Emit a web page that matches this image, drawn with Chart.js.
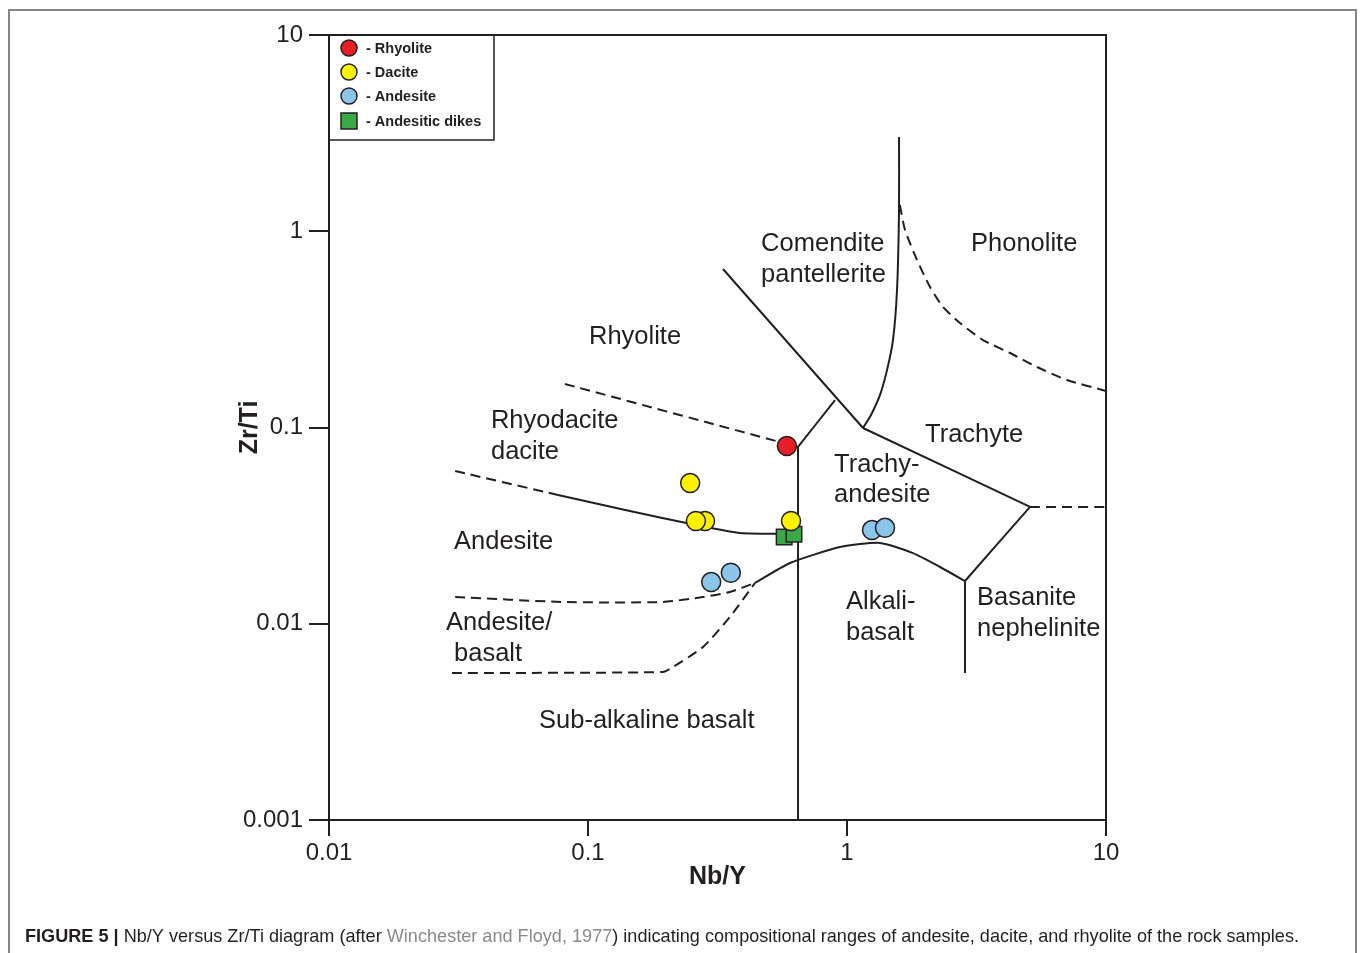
<!DOCTYPE html>
<html>
<head>
<meta charset="utf-8">
<script src="https://cdn.jsdelivr.net/npm/chart.js@4.4.1/dist/chart.umd.min.js"></script>
<style>
  html, body { margin: 0; padding: 0; background: #fff; }
  #wrap { position: relative; width: 1360px; height: 953px; overflow: hidden; }
  #frame { position: absolute; left: 8px; top: 9px; width: 1349px; height: 980px; border: 2px solid #858585; border-bottom: none; box-sizing: border-box; }
  canvas { position: absolute; left: 0; top: 0; }
</style>
</head>
<body>
<div id="wrap">
  <div id="frame"></div>
  <canvas id="chart" width="1360" height="953"></canvas>
</div>
<script>
const ink = '#231f20';
const family = '"Liberation Sans", Arial, Helvetica, sans-serif';
const captionFamily = '"Liberation Sans Narrow", "Liberation Sans", Arial, sans-serif';

// axis ticks
const xTicks = [0.01, 0.1, 1, 10];
const yTicks = [0.001, 0.01, 0.1, 1, 10];

// samples, Nb/Y vs Zr/Ti
const rhyolite = [{ x: 0.586, y: 0.0805 }];
const dacite = [
    { x: 0.248, y: 0.0521 },
    { x: 0.283, y: 0.0334 },
    { x: 0.261, y: 0.0334 },
    { x: 0.608, y: 0.0334 }
];
const andesite = [
    { x: 0.299, y: 0.0163 },
    { x: 0.356, y: 0.0182 },
    { x: 1.249, y: 0.0300 },
    { x: 1.402, y: 0.0308 }
];
const andesiticDikes = [
    { x: 0.572, y: 0.0277 },
    { x: 0.624, y: 0.0286 }
];

// field boundaries (Winchester & Floyd 1977)
const rhyoliteRhyodacite = [{ x: 0.0815, y: 0.1666 }, { x: 0.647, y: 0.0796 }];
const rhyodaciteAndesiteDash = [{ x: 0.0307, y: 0.0600 }, { x: 0.0766, y: 0.0453 }];
const rhyodaciteAndesite = [
    { x: 0.0766, y: 0.0453 }, { x: 0.145, y: 0.0375 }, { x: 0.264, y: 0.0318 },
    { x: 0.386, y: 0.0290 }, { x: 0.647, y: 0.0287 }
];
const subalkalineAlkaline = [{ x: 0.647, y: 0.0796 }, { x: 0.647, y: 0.001 }];
const rhyoliteTrachyandesite = [{ x: 0.647, y: 0.0796 }, { x: 0.899, y: 0.138 }];
const rhyoliteComendite = [{ x: 0.332, y: 0.642 }, { x: 1.153, y: 0.0994 }];
const comenditePhonolite = [
    { x: 1.588, y: 3.02 }, { x: 1.588, y: 1.28 }, { x: 1.56, y: 0.502 }, { x: 1.505, y: 0.279 },
    { x: 1.427, y: 0.196 }, { x: 1.341, y: 0.1465 }, { x: 1.238, y: 0.1158 }, { x: 1.153, y: 0.0994 }
];
const trachyteTrachyandesite = [{ x: 1.153, y: 0.0994 }, { x: 5.09, y: 0.0394 }];
const trachyandesiteBasanite = [{ x: 5.09, y: 0.0394 }, { x: 2.855, y: 0.01651 }];
const alkaliBasanite = [{ x: 2.855, y: 0.01651 }, { x: 2.855, y: 0.00561 }];
const andesiteAlkali = [
    { x: 0.4414, y: 0.01614 }, { x: 0.6026, y: 0.0204 }, { x: 0.940, y: 0.0246 }, { x: 1.341, y: 0.0258 },
    { x: 1.798, y: 0.0229 }, { x: 2.286, y: 0.01946 }, { x: 2.855, y: 0.01651 }
];
const phonoliteDash = [
    { x: 1.60, y: 1.36 }, { x: 1.675, y: 1.015 }, { x: 1.863, y: 0.714 }, { x: 2.092, y: 0.520 },
    { x: 2.348, y: 0.411 }, { x: 2.731, y: 0.3407 }, { x: 3.35, y: 0.279 }, { x: 4.26, y: 0.2397 },
    { x: 5.415, y: 0.2034 }, { x: 7.07, y: 0.1746 }, { x: 10, y: 0.1535 }
];
const trachytePhonoliteDash = [{ x: 5.09, y: 0.0394 }, { x: 10, y: 0.0394 }];
const andesiteBasaltDash = [
    { x: 0.0307, y: 0.01369 }, { x: 0.0801, y: 0.01291 }, { x: 0.1949, y: 0.01291 },
    { x: 0.278, y: 0.01369 }, { x: 0.353, y: 0.01452 }, { x: 0.4414, y: 0.01614 }
];
const basaltSubalkalineDash = [
    { x: 0.02985, y: 0.00561 }, { x: 0.1949, y: 0.00568 }, { x: 0.2128, y: 0.00602 },
    { x: 0.278, y: 0.00761 }, { x: 0.353, y: 0.01083 }, { x: 0.4414, y: 0.01614 }
];

const solidLines = [rhyodaciteAndesite, subalkalineAlkaline, rhyoliteTrachyandesite, rhyoliteComendite,
    comenditePhonolite, trachyteTrachyandesite, trachyandesiteBasanite, alkaliBasanite, andesiteAlkali];
const dashedLines = [rhyoliteRhyodacite, rhyodaciteAndesiteDash, phonoliteDash, trachytePhonoliteDash,
    andesiteBasaltDash, basaltSubalkalineDash];

// field names, anchored at left / middle of the text
const fieldLabels = [
    { text: 'Comendite', x: 0.466, y: 0.86 },
    { text: 'pantellerite', x: 0.466, y: 0.597 },
    { text: 'Phonolite', x: 3.012, y: 0.86 },
    { text: 'Rhyolite', x: 0.1009, y: 0.288 },
    { text: 'Rhyodacite', x: 0.0422, y: 0.1075 },
    { text: 'dacite', x: 0.0422, y: 0.0749 },
    { text: 'Trachyte', x: 2.001, y: 0.0915 },
    { text: 'Trachy-', x: 0.891, y: 0.0643 },
    { text: 'andesite', x: 0.891, y: 0.0452 },
    { text: 'Andesite', x: 0.0304, y: 0.0260 },
    { text: 'Andesite/', x: 0.0283, y: 0.01008 },
    { text: 'basalt', x: 0.0304, y: 0.00700 },
    { text: 'Alkali-', x: 0.991, y: 0.01290 },
    { text: 'basalt', x: 0.991, y: 0.00896 },
    { text: 'Basanite', x: 3.177, y: 0.01350 },
    { text: 'nephelinite', x: 3.177, y: 0.00938 },
    { text: 'Sub-alkaline basalt', x: 0.0647, y: 0.00319 }
];

const captionParts = [
    { text: 'FIGURE 5 | ', bold: true, color: ink },
    { text: 'Nb/Y versus Zr/Ti diagram (after ', color: ink },
    { text: 'Winchester and Floyd, 1977', color: '#8a8a8a' },
    { text: ') indicating compositional ranges of andesite, dacite, and rhyolite of the rock samples.', color: ink }
];

function sample(label, data, color, style, radius) {
    return {
        label: label, data: data, backgroundColor: color, borderColor: ink, borderWidth: 1.5,
        pointStyle: style, pointRadius: radius, showLine: false
    };
}

function boundary(data, dashed) {
    return {
        data: data, showLine: true, borderColor: ink, borderWidth: 2, pointRadius: 0,
        borderDash: dashed ? [10, 6] : [], tension: 0.2, fill: false
    };
}

const datasets = [
    sample('- Rhyolite', rhyolite, '#e41f26', 'circle', 9.5),
    sample('- Dacite', dacite, '#fff200', 'circle', 9.5),
    sample('- Andesite', andesite, '#8cc5ea', 'circle', 9.5),
    sample('- Andesitic dikes', andesiticDikes, '#3aa845', 'rect', 11),
    ...solidLines.map(l => boundary(l, false)),
    ...dashedLines.map(l => boundary(l, true))
];

const decorations = {
    id: 'decorations',
    afterDraw(chart) {
        const { ctx, chartArea: a, scales: { x, y } } = chart;
        ctx.save();

        // plot frame
        ctx.strokeStyle = ink;
        ctx.lineWidth = 2;
        ctx.strokeRect(a.left, a.top, a.right - a.left, a.bottom - a.top);

        // field names
        ctx.fillStyle = ink;
        ctx.font = '25.5px ' + family;
        ctx.textAlign = 'left';
        ctx.textBaseline = 'middle';
        fieldLabels.forEach(l => ctx.fillText(l.text, x.getPixelForValue(l.x), y.getPixelForValue(l.y)));

        // axis titles
        ctx.font = 'bold 25px ' + family;
        ctx.textAlign = 'center';
        ctx.fillText('Nb/Y', (a.left + a.right) / 2, a.bottom + 57);
        ctx.save();
        ctx.translate(a.left - 79, (a.top + a.bottom) / 2);
        ctx.rotate(-Math.PI / 2);
        ctx.fillText('Zr/Ti', 0, 0);
        ctx.restore();

        // legend
        ctx.lineWidth = 1.5;
        ctx.strokeRect(a.left, a.top, 165, 105);
        ctx.font = 'bold 14.5px ' + family;
        ctx.textAlign = 'left';
        const rows = [13, 37, 61, 86];
        chart.data.datasets.filter(d => d.label).forEach((d, i) => {
            const cx = a.left + 20, cy = a.top + rows[i];
            ctx.fillStyle = d.backgroundColor;
            ctx.strokeStyle = ink;
            ctx.lineWidth = 1.5;
            ctx.beginPath();
            if (d.pointStyle === 'rect') {
                ctx.rect(cx - 8, cy - 8, 16, 16);
            } else {
                ctx.arc(cx, cy, 8, 0, Math.PI * 2);
            }
            ctx.fill();
            ctx.stroke();
            ctx.fillStyle = ink;
            ctx.fillText(d.label, a.left + 37, cy + 1);
        });

        // caption, squeezed to the printed width
        ctx.textBaseline = 'alphabetic';
        let total = 0;
        captionParts.forEach(p => {
            ctx.font = (p.bold ? 'bold ' : '') + '19px ' + captionFamily;
            p.w = ctx.measureText(p.text).width;
            total += p.w;
        });
        const sx = 1274 / total;
        ctx.save();
        ctx.translate(25, 942);
        ctx.scale(sx, 1);
        let cur = 0;
        captionParts.forEach(p => {
            ctx.font = (p.bold ? 'bold ' : '') + '19px ' + captionFamily;
            ctx.fillStyle = p.color;
            ctx.fillText(p.text, cur, 0);
            cur += p.w;
        });
        ctx.restore();

        ctx.restore();
    }
};

function logAxis(min, max, ticks, fit, tickLength, padding) {
    return {
        type: 'logarithmic', min: min, max: max,
        afterBuildTicks: s => { s.ticks = ticks.map(v => ({ value: v })); },
        afterFit: fit,
        grid: { drawOnChartArea: false, drawTicks: true, tickLength: tickLength, color: ink, lineWidth: 2 },
        border: { display: true, color: ink, width: 2 },
        ticks: {
            color: ink, padding: padding, autoSkip: false, maxRotation: 0,
            font: { size: 24, family: family },
            callback: v => String(v)
        }
    };
}

new Chart(document.getElementById('chart'), {
    type: 'scatter',
    data: { datasets: datasets },
    options: {
        responsive: false,
        animation: false,
        devicePixelRatio: 1,
        events: [],
        layout: { padding: { left: 0, top: 35, right: 254, bottom: 73 } },
        plugins: { legend: { display: false }, tooltip: { enabled: false } },
        scales: {
            x: logAxis(0.01, 10, xTicks, s => { s.height = 60; }, 16, 3),
            y: logAxis(0.001, 10, yTicks, s => { s.width = 329; }, 20, 6)
        }
    },
    plugins: [decorations]
});
</script>
</body>
</html>
